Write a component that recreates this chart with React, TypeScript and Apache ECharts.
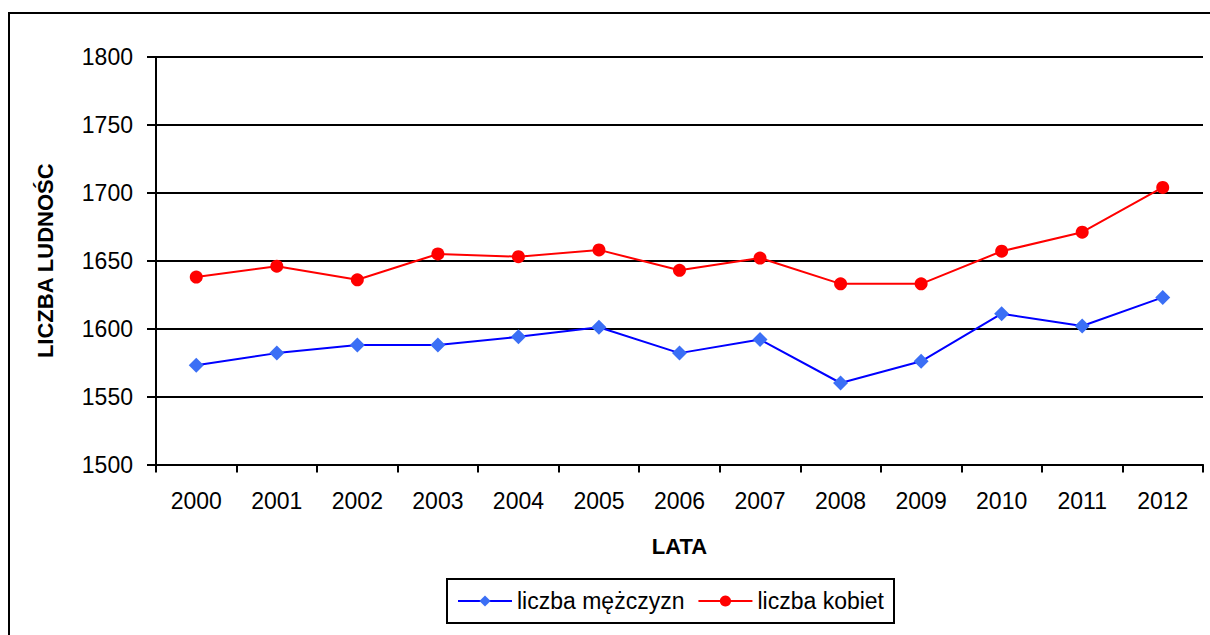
import React, { useEffect, useRef } from "react";
import * as echarts from "echarts";

const years = ["2000", "2001", "2002", "2003", "2004", "2005", "2006", "2007", "2008", "2009", "2010", "2011", "2012"];
const men = [1573, 1582, 1588, 1588, 1594, 1601, 1582, 1592, 1560, 1576, 1611, 1602, 1623];
const women = [1638, 1646, 1636, 1655, 1653, 1658, 1643, 1652, 1633, 1633, 1657, 1671, 1704];
const menName = "liczba mężczyzn";
const womenName = "liczba kobiet";
const xTitle = "LATA";
const yTitle = "LICZBA LUDNOŚC";

const FONT = "Arial, 'Liberation Sans', sans-serif";

export default function App() {
  const ref = useRef<HTMLDivElement>(null);
  useEffect(() => {
    if (!ref.current) return;
    const chart = echarts.init(ref.current, undefined, { renderer: "svg" });
    chart.setOption({
      animation: false,
      backgroundColor: "#ffffff",
      textStyle: { fontFamily: FONT },
      graphic: [
        {
          type: "rect",
          shape: { x: 9, y: 13, width: 1400, height: 800 },
          style: { fill: "none", stroke: "#000", lineWidth: 2 },
          silent: true,
          z: -1,
        },
      ],
      grid: { left: 156, top: 57, right: 7, bottom: 170.5, containLabel: false },
      legend: {
        left: 447,
        top: 579,
        orient: "horizontal",
        itemWidth: 54,
        itemHeight: 14,
        itemGap: 13,
        padding: [9, 10, 9, 10],
        borderColor: "#000",
        borderWidth: 2,
        textStyle: { fontSize: 23, color: "#000", fontFamily: FONT, lineHeight: 26 },
        data: [menName, womenName],
      },
      xAxis: {
        type: "category",
        data: years,
        boundaryGap: true,
        name: xTitle,
        nameLocation: "middle",
        nameGap: 71,
        nameTextStyle: { fontSize: 22, fontWeight: "bold", color: "#000", fontFamily: FONT },
        axisLine: { lineStyle: { color: "#000", width: 2 } },
        axisTick: { show: true, length: 8, interval: 0, lineStyle: { color: "#000", width: 2 } },
        axisLabel: { fontSize: 23, color: "#000", margin: 25, interval: 0, fontFamily: FONT },
      },
      yAxis: {
        type: "value",
        min: 1500,
        max: 1800,
        interval: 50,
        name: yTitle,
        nameLocation: "middle",
        nameGap: 100,
        nameTextStyle: { fontSize: 22, fontWeight: "bold", color: "#000", fontFamily: FONT },
        axisLine: { show: true, lineStyle: { color: "#000", width: 2 } },
        axisTick: { show: true, length: 9, lineStyle: { color: "#000", width: 2 } },
        axisLabel: {
          fontSize: 23,
          color: "#000",
          margin: 23,
          fontFamily: FONT,
          formatter: (v: number) => String(v),
        },
        splitLine: { show: true, lineStyle: { color: "#000", width: 2 } },
      },
      series: [
        {
          name: menName,
          type: "line",
          data: men,
          symbol: "diamond",
          symbolSize: 15,
          lineStyle: { color: "#0000ff", width: 2 },
          itemStyle: { color: "#3b6ff5" },
          z: 3,
        },
        {
          name: womenName,
          type: "line",
          data: women,
          symbol: "circle",
          symbolSize: 13,
          lineStyle: { color: "#ff0000", width: 2 },
          itemStyle: { color: "#ff0000" },
          z: 3,
        },
      ],
    });
    return () => chart.dispose();
  }, []);
  return (
    <div
      ref={ref}
      style={{ position: "absolute", left: 0, top: 0, width: 1210, height: 635 }}
    />
  );
}
